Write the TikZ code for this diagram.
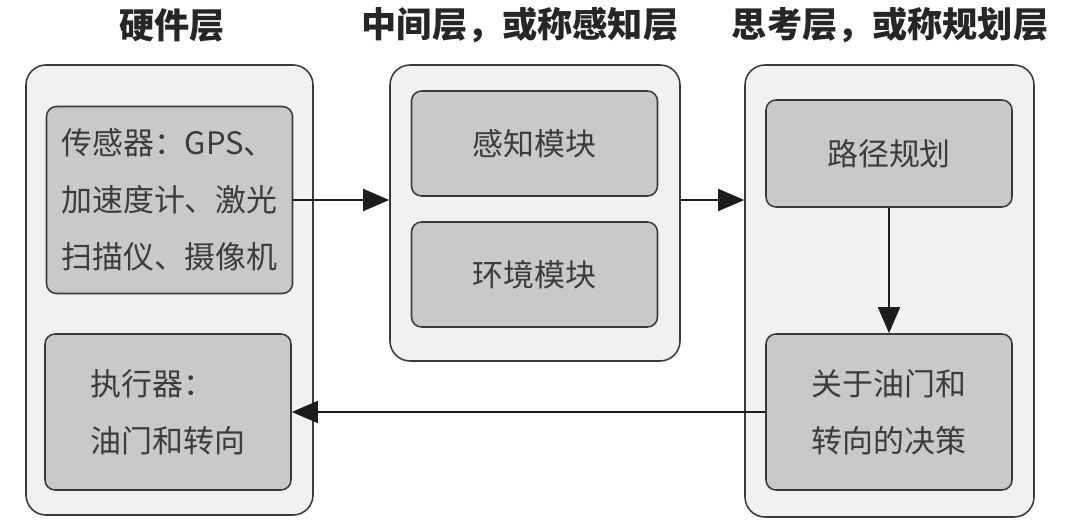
\documentclass[tikz,border=0pt]{standalone}
\usepackage{fontspec}
\setmainfont{Noto Sans CJK SC}
\usepackage{xcolor}
\usetikzlibrary{arrows.meta,positioning,calc}
\definecolor{framegray}{HTML}{3A3A3A}
\definecolor{layerfill}{HTML}{F1F1F1}
\definecolor{modfill}{HTML}{C9C9C9}
\definecolor{textgray}{HTML}{3C3C3C}
\definecolor{arrowblack}{HTML}{1C1C1C}

\begin{document}
\begin{tikzpicture}[
  layer/.style={draw=framegray,fill=layerfill,rounded corners=5mm,line width=1.1pt,inner sep=0pt},
  module/.style={draw=framegray,fill=modfill,rounded corners=2.5mm,line width=1.1pt,
    minimum width=6.15cm,text=textgray,font=\fontsize{22}{40.5}\selectfont,align=center},
  title/.style={font=\fontsize{25}{30}\selectfont\bfseries,text=black!85},
  darr/.style={-{Triangle[length=6.5mm,width=5.5mm]},line width=1.1pt,draw=arrowblack}
]
\fill[white] (0,0) rectangle (27,13.25);
\useasboundingbox (0,0) rectangle (27,13.25);

% the three layers
\node[layer,minimum width=7.175cm,minimum height=11.25cm] (hw) at (4.2375,6.0) {};
\node[layer,minimum width=7.25cm,minimum height=7.4cm] (mid) at (13.375,7.925) {};
\node[layer,minimum width=7.225cm,minimum height=11.3cm] (think) at (22.2375,5.975) {};

\node[title] (hwtitle) at (4.3,12.625) {硬件层};
\node[title] (midtitle) at (13.0,12.625) {中间层，或称感知层};
\node[title] (thinktitle) at (22.25,12.625) {思考层，或称规划层};

% modules
\node[module,minimum height=4.675cm,align=left] (sensor) at (4.2375,8.25)
  {传感器：GPS、\\加速度计、激光\\扫描仪、摄像机};
\node[module,minimum height=3.9cm,align=left] (act) at (4.2,2.95)
  {执行器：\\油门和转向};
\node[module,minimum height=2.625cm] (percept) at (13.3625,9.6625) {感知模块};
\node[module,minimum height=2.625cm] (env) at (13.3625,6.3875) {环境模块};
\node[module,minimum height=2.675cm] (plan) at (22.225,9.4125) {路径规划};
\node[module,minimum height=3.9cm] (decide) at (22.225,2.95) {关于油门和\\转向的决策};

% flow
\draw[darr] (sensor.east) -- (sensor.east -| mid.west);
\draw[darr] (mid.east |- sensor.east) -- (think.west |- sensor.east);
\draw[darr] (plan.south) -- (decide.north);
\draw[darr] (decide.west) -- (act.east);
\end{tikzpicture}
\end{document}
